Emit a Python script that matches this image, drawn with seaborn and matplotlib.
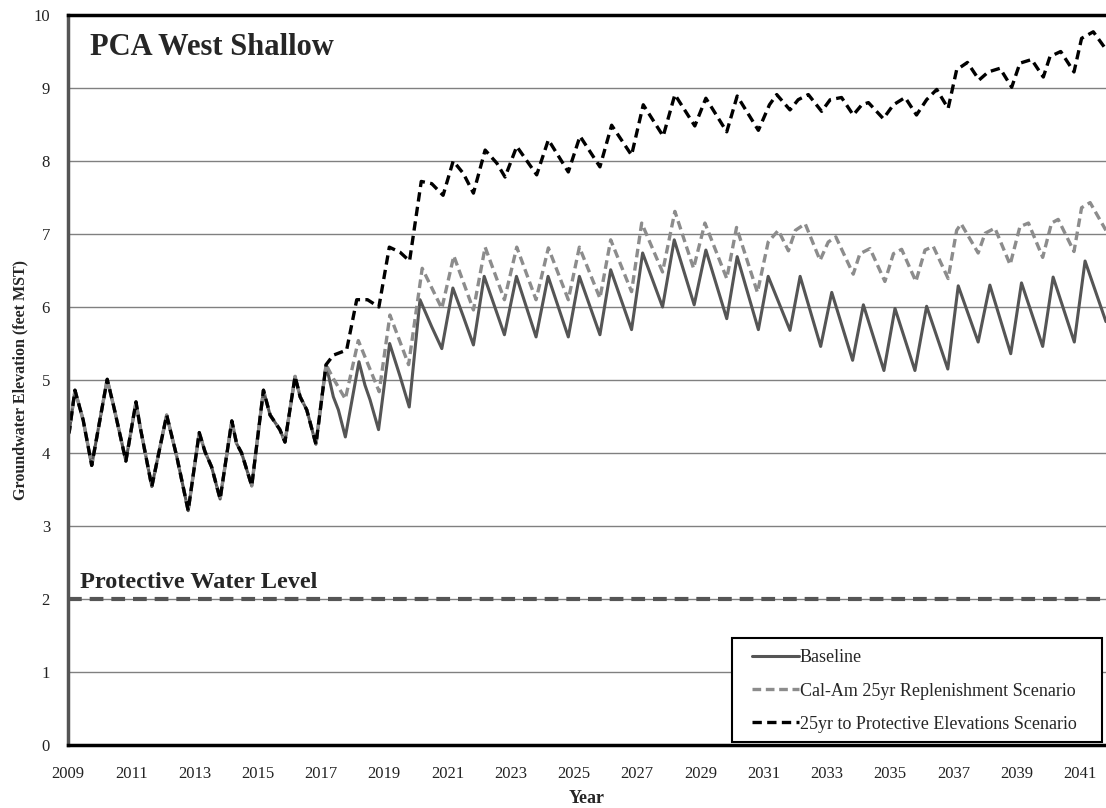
import matplotlib
matplotlib.use("Agg")
import matplotlib.pyplot as plt
from matplotlib.patches import Rectangle
import pandas as pd
import seaborn as sns

# Shared observed record (all three series coincide), 2009 to early 2017
hist_year = [2009.00, 2009.04, 2009.22, 2009.48, 2009.75, 2010.24, 2010.45, 2010.83,
             2011.15, 2011.28, 2011.65, 2012.12, 2012.44, 2012.80, 2013.15, 2013.33,
             2013.54, 2013.81, 2014.18, 2014.33, 2014.49, 2014.81, 2015.18, 2015.39,
             2015.70, 2015.86, 2016.18, 2016.34, 2016.55, 2016.84, 2017.16]
hist_level = [4.25, 4.29, 4.86, 4.45, 3.83, 5.01, 4.63, 3.89,
              4.70, 4.36, 3.54, 4.52, 3.95, 3.21, 4.28, 4.02,
              3.81, 3.37, 4.44, 4.13, 4.00, 3.55, 4.86, 4.52,
              4.32, 4.15, 5.05, 4.77, 4.59, 4.12, 5.21]

# Baseline projection
base_year = [2017.39, 2017.55, 2017.77, 2018.20, 2018.39, 2018.55, 2018.82, 2019.17,
             2019.50, 2019.79, 2020.13, 2020.50, 2020.82, 2021.17, 2021.50, 2021.82,
             2022.16, 2022.80, 2023.18, 2023.80, 2024.18, 2024.82, 2025.17, 2025.82,
             2026.16, 2026.82, 2027.17, 2027.80, 2028.17, 2028.80, 2029.17, 2029.83,
             2030.16, 2030.83, 2031.14, 2031.83, 2032.15, 2032.80, 2033.15, 2033.81,
             2034.15, 2034.80, 2035.15, 2035.78, 2036.15, 2036.82, 2037.15, 2037.78,
             2038.15, 2038.81, 2039.15, 2039.82, 2040.15, 2040.82, 2041.16, 2041.82]
base_level = [4.77, 4.59, 4.22, 5.25, 4.93, 4.73, 4.32, 5.50,
              5.05, 4.63, 6.10, 5.73, 5.43, 6.26, 5.87, 5.48,
              6.42, 5.62, 6.42, 5.59, 6.42, 5.59, 6.42, 5.62,
              6.51, 5.69, 6.74, 6.00, 6.92, 6.03, 6.78, 5.84,
              6.69, 5.69, 6.42, 5.68, 6.42, 5.46, 6.20, 5.27,
              6.03, 5.13, 5.98, 5.13, 6.01, 5.15, 6.29, 5.52,
              6.30, 5.36, 6.33, 5.46, 6.41, 5.52, 6.63, 5.80]

# Cal-Am 25yr replenishment projection
calam_year = [2017.39, 2017.77, 2018.18, 2018.84, 2019.18, 2019.77, 2020.20, 2020.82,
              2021.20, 2021.82, 2022.19, 2022.80, 2023.19, 2023.80, 2024.19, 2024.82,
              2025.17, 2025.82, 2026.16, 2026.82, 2027.14, 2027.80, 2028.19, 2028.78,
              2029.14, 2029.83, 2030.14, 2030.80, 2031.14, 2031.46, 2031.78, 2032.00,
              2032.31, 2032.78, 2033.04, 2033.28, 2033.83, 2034.04, 2034.36, 2034.83,
              2035.10, 2035.36, 2035.81, 2036.10, 2036.36, 2036.83, 2037.10, 2037.24,
              2037.78, 2038.00, 2038.31, 2038.79, 2039.10, 2039.37, 2039.82, 2040.10,
              2040.31, 2040.81, 2041.05, 2041.32, 2041.82]
calam_level = [5.02, 4.74, 5.54, 4.84, 5.89, 5.21, 6.53, 5.98,
               6.70, 5.96, 6.82, 6.10, 6.82, 6.10, 6.81, 6.10,
               6.82, 6.12, 6.92, 6.21, 7.15, 6.48, 7.31, 6.53,
               7.15, 6.39, 7.09, 6.20, 6.89, 7.05, 6.77, 7.05,
               7.14, 6.64, 6.89, 6.96, 6.45, 6.73, 6.80, 6.35,
               6.73, 6.79, 6.35, 6.78, 6.83, 6.39, 7.05, 7.14,
               6.74, 7.01, 7.08, 6.58, 7.10, 7.15, 6.68, 7.15,
               7.20, 6.76, 7.36, 7.43, 7.05]

# 25yr to protective elevations projection
prot_year = [2017.39, 2017.81, 2018.13, 2018.47, 2018.83, 2019.16, 2019.50, 2019.80,
             2020.17, 2020.50, 2020.86, 2021.18, 2021.50, 2021.82, 2022.19, 2022.56,
             2022.82, 2023.19, 2023.82, 2024.19, 2024.82, 2025.19, 2025.82, 2026.19,
             2026.82, 2027.19, 2027.82, 2028.19, 2028.82, 2029.17, 2029.83, 2030.16,
             2030.83, 2031.18, 2031.41, 2031.83, 2032.09, 2032.41, 2032.83, 2033.10,
             2033.46, 2033.83, 2034.10, 2034.31, 2034.78, 2035.10, 2035.47, 2035.83,
             2036.15, 2036.47, 2036.83, 2037.10, 2037.44, 2037.81, 2038.10, 2038.47,
             2038.84, 2039.10, 2039.47, 2039.84, 2040.05, 2040.39, 2040.81, 2041.05,
             2041.42, 2041.82]
prot_level = [5.34, 5.41, 6.10, 6.10, 6.00, 6.82, 6.75, 6.63,
              7.72, 7.69, 7.53, 8.00, 7.83, 7.56, 8.15, 7.97,
              7.78, 8.20, 7.81, 8.29, 7.85, 8.34, 7.92, 8.49,
              8.08, 8.77, 8.34, 8.91, 8.48, 8.86, 8.40, 8.89,
              8.42, 8.77, 8.91, 8.70, 8.84, 8.91, 8.68, 8.84,
              8.87, 8.63, 8.77, 8.80, 8.58, 8.77, 8.87, 8.63,
              8.84, 8.98, 8.72, 9.25, 9.35, 9.11, 9.22, 9.27,
              9.01, 9.34, 9.39, 9.15, 9.43, 9.50, 9.22, 9.68,
              9.77, 9.53]

protective_level = 2.0
series_names = ["Baseline",
                "Cal-Am 25yr Replenishment Scenario",
                "25yr to Protective Elevations Scenario"]
year_ticks = list(range(2009, 2042, 2))
level_ticks = list(range(0, 11))

frames = []
for name, yrs, lvls in zip(series_names,
                           [base_year, calam_year, prot_year],
                           [base_level, calam_level, prot_level]):
    frames.append(pd.DataFrame({"Year": hist_year + yrs,
                                "Level": hist_level + lvls,
                                "Series": name}))

sns.set_style("white")
serif = ["Liberation Serif", "DejaVu Serif"]
plt.rcParams["font.family"] = serif

W, H = 1106, 808
fig = plt.figure(figsize=(W / 100, H / 100), dpi=100)
ax = fig.add_axes([68 / W, 63 / H, 1038 / W, 730 / H])

# horizontal gridlines under the data
ax.set_yticks(level_ticks)
ax.yaxis.grid(True, color="#808080", lw=1.0, zorder=0)
ax.set_axisbelow(True)

styles = [
    dict(color="#555555", lw=2.2, dashes=None),
    dict(color="#8c8c8c", lw=2.4, dashes=(2.6, 1.4)),
    dict(color="#000000", lw=2.4, dashes=(2.8, 1.6)),
]
for df, st in zip(frames, styles):
    sns.lineplot(data=df, x="Year", y="Level", ax=ax, sort=False, estimator=None,
                 color=st["color"], lw=st["lw"], label=df["Series"].iloc[0])
    if st["dashes"] is not None:
        ax.lines[-1].set_dashes(st["dashes"])

# protective water level reference line
ax.axhline(protective_level, color="#555555", lw=3.0, dashes=(3.3, 1.9), zorder=1)
ax.text(2009.38, protective_level + 0.15, "Protective Water Level",
        fontsize=17.5, fontweight="bold", family=serif, va="baseline", ha="left")

fig.text(90 / W, 1 - 55 / H, "PCA West Shallow", fontsize=22,
         fontweight="bold", family=serif, va="baseline", ha="left")

ax.set_xlim(2009, 2009 + 1038 / 31.625)
ax.set_ylim(0, 10)
ax.set_xticks(year_ticks)
ax.set_xticklabels([str(y) for y in year_ticks])
ax.set_yticklabels([str(v) for v in level_ticks])
ax.tick_params(axis="both", direction="out", length=5, width=1, color="#555555",
               labelsize=12, labelcolor="#222222")
ax.tick_params(axis="x", pad=10)
ax.tick_params(axis="y", pad=8)

ax.set_xlabel("Year", fontsize=13, fontweight="bold")
ax.xaxis.set_label_coords(0.5, (745 - 790) / 730)
ax.set_ylabel("Groundwater Elevation (feet MST)", fontsize=11.5, fontweight="bold")
ax.yaxis.set_label_coords((20 - 68) / 1038, 0.5)
ax.yaxis.label.set_va("center")

ax.spines["right"].set_visible(False)
ax.spines["top"].set_color("black")
ax.spines["top"].set_linewidth(2.5)
ax.spines["left"].set_color("#555555")
ax.spines["left"].set_linewidth(2.5)
ax.spines["bottom"].set_color("black")
ax.spines["bottom"].set_linewidth(2.5)

# legend box with wider side margins than top/bottom
box = Rectangle((732 / W, (H - 742) / H), 370 / W, 104 / H, transform=fig.transFigure,
                facecolor="white", edgecolor="black", lw=1.5, zorder=4, clip_on=False)
ax.add_artist(box)
leg = ax.legend(loc="center left", bbox_to_anchor=(752 / W, (H - 691) / H),
                bbox_transform=fig.transFigure, frameon=False, fontsize=13,
                handlelength=2.6, handletextpad=0.05, labelspacing=0.9,
                borderpad=0, borderaxespad=0)
leg.set_zorder(5)

fig.savefig("out.png", dpi=100)
